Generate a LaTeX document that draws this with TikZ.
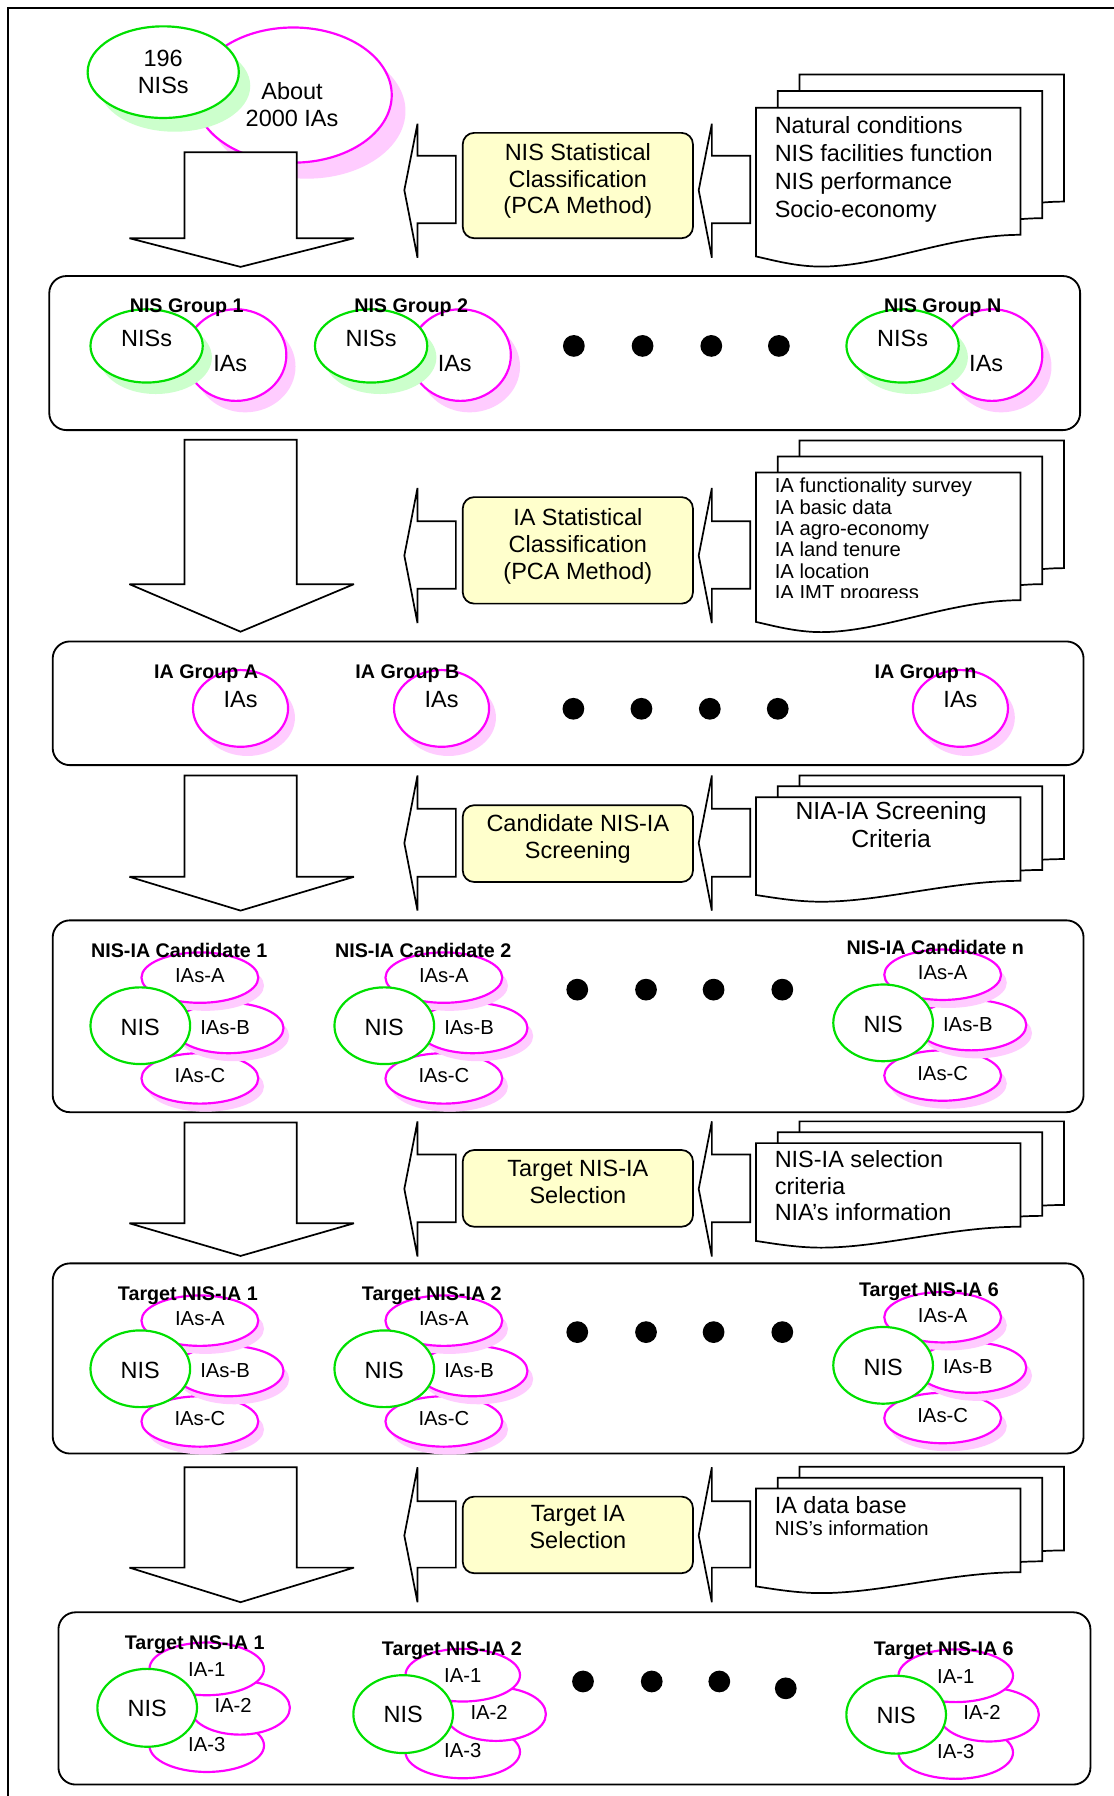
\documentclass[tikz,border=0pt]{standalone}
\usepackage{fontspec}
\setmainfont{Liberation Sans}
\definecolor{grn}{RGB}{0,224,0}
\definecolor{mag}{RGB}{255,0,255}
\definecolor{grnsh}{RGB}{204,255,204}
\definecolor{magsh}{RGB}{255,204,255}
\definecolor{pyel}{RGB}{255,255,204}
\newcommand\fbig{\fontsize{10.25}{11.75}\selectfont}
\newcommand\fsmall{\fontsize{8.85}{9.3}\selectfont}
\newcommand\flbl{\fontsize{8.6}{10}\selectfont\bfseries}
\tikzset{
  gline/.style={draw=grn, line width=0.95pt, fill=white},
  mline/.style={draw=mag, line width=0.95pt, fill=white},
  gshadow/.style={fill=grnsh},
  mshadow/.style={fill=magsh},
  blk/.style={draw=black, line width=0.75pt, fill=white, line join=miter, miter limit=3},
  panel/.style={draw=black, line width=0.8pt, rounded corners=7.5pt},
  pbox/.style={draw=black, line width=0.75pt, fill=pyel, rounded corners=5pt},
  onel/.style={inner sep=0pt, text depth=0pt},
  txtbig/.style={onel, font=\fbig, text height=7.45pt},
  txtsm/.style={onel, font=\fsmall, text height=6.45pt},
  txtlbl/.style={onel, font=\flbl, text height=6.2pt},
  multi/.style={inner sep=0pt, align=center, font=\fbig},
}
% down block arrow: top, head y, tip y
\newcommand\downarr[3]{%
  \draw[blk] (161,#1) -- (259,#1) -- (259,#2) -- (309,#2) -- (210,#3) -- (113,#2) -- (161,#2) -- cycle;}
% left block arrow: tip x, top, body top, tip y, body bottom, bottom
\newcommand\leftarr[6]{%
  \draw[blk] ({#1+11.5},#2) -- ({#1+11.5},#3) -- ({#1+45},#3) -- ({#1+45},#5) -- ({#1+11.5},#5) -- ({#1+11.5},#6) -- (#1,#4) -- cycle;}
% document page: x0, top, h
\newcommand\docpage[3]{%
  \draw[blk] ({#1},{#2}) -- ({#1+231},{#2}) -- ({#1+231},{#2+#3})
    .. controls ({#1+170},{#2+#3}) and ({#1+110},{#2+1.25*#3}) .. ({#1+57},{#2+1.25*#3})
    .. controls ({#1+35},{#2+1.25*#3}) and ({#1+15},{#2+1.2*#3}) .. ({#1},{#2+1.17*#3}) -- cycle;}
\newcommand\docstack[4]{%
  \docpage{#1+38}{#2-2*#4}{#3}\docpage{#1+19}{#2-#4}{#3}\docpage{#1}{#2}{#3}}
% NIS group (row 1): name, gx, gy, label
\newcommand\nisgroup[4]{%
  \fill[mshadow] ({#2+86},{#3+18}) ellipse [x radius=44, y radius=40];
  \draw[mline] ({#2+78},{#3+8}) ellipse [x radius=44, y radius=40];
  \fill[gshadow] ({#2+8},{#3+10}) ellipse [x radius=49, y radius=32];
  \draw[gline] ({#2},{#3}) ellipse [x radius=49, y radius=32];
  \node[txtbig] (#1n) at ({#2},{#3-7}) {NISs};
  \node[txtbig] (#1i) at ({#2+73},{#3+15}) {IAs};
  \node[txtlbl] (#1l) at ({#2+35},{#3-35}) {#4};}
% IA group (row 2): name, cx, label x, label
\newcommand\iagroup[4]{%
  \fill[mshadow] ({#2+6},626.5) ellipse [x radius=41.5, y radius=33.5];
  \draw[mline] ({#2},618.5) ellipse [x radius=41.5, y radius=33.5];
  \node[txtbig] (#1i) at ({#2},610) {IAs};
  \node[txtlbl] (#1l) at ({#3},586.5) {#4};}
% candidate / target cluster: name, cx, cy, label x, label
\newcommand\candclus[5]{%
  \fill[mshadow] ({#2+57},{#3+53}) ellipse [x radius=51, y radius=22];
  \draw[mline] ({#2+52},{#3+46}) ellipse [x radius=51, y radius=22];
  \fill[mshadow] ({#2+82},{#3+9}) ellipse [x radius=48, y radius=22];
  \draw[mline] ({#2+77},{#3+2}) ellipse [x radius=48, y radius=22];
  \fill[mshadow] ({#2+57},{#3-35}) ellipse [x radius=51, y radius=22];
  \draw[mline] ({#2+52},{#3-42}) ellipse [x radius=51, y radius=22];
  \draw[gline] ({#2},{#3}) ellipse [x radius=43.5, y radius=33.5];
  \node[txtsm] (#1a) at ({#2+52},{#3-44}) {IAs-A};
  \node[txtsm] (#1b) at ({#2+74},{#3+1}) {IAs-B};
  \node[txtsm] (#1c) at ({#2+52},{#3+43.5}) {IAs-C};
  \node[txtbig] (#1n) at ({#2},{#3+1}) {NIS};
  \node[txtlbl] (#1l) at ({#4},{#3-66}) {#5};}
% final cluster: name, cx, cy, label x, label y, label
\newcommand\iaclus[6]{%
  \draw[mline] ({#2+52},{#3+33}) ellipse [x radius=50, y radius=23];
  \draw[mline] ({#2+81},{#3}) ellipse [x radius=43.6, y radius=23.4];
  \draw[mline] ({#2+52},{#3-34}) ellipse [x radius=50, y radius=23];
  \draw[gline] ({#2},{#3}) ellipse [x radius=43.5, y radius=34];
  \node[txtsm] (#1a) at ({#2+52},{#3-34}) {IA-1};
  \node[txtsm] (#1b) at ({#2+75},{#3-2}) {IA-2};
  \node[txtsm] (#1c) at ({#2+52},{#3+31.5}) {IA-3};
  \node[txtbig] (#1n) at ({#2},{#3}) {NIS};
  \node[txtlbl] (#1l) at ({#4},{#5}) {#6};}
\newcommand\dotrow[5]{%
  \foreach \dx in {#1,#2,#3,#4} {\fill (\dx,#5) circle [radius=9.5];}}
\begin{document}
\begin{tikzpicture}[x=0.5pt,y=-0.5pt]
\useasboundingbox (0,0) rectangle (972,1568);
\fill[white] (0,0) rectangle (972,1568);
\draw[line width=0.8pt] (7,1572) -- (7,7) -- (976,7);

% ---------- top: NIS / IA ellipses ----------
\fill[mshadow] (268,97) ellipse [x radius=86, y radius=59];
\draw[mline] (256,83) ellipse [x radius=86, y radius=59];
\fill[gshadow] (152.5,75) ellipse [x radius=66, y radius=40];
\draw[gline] (142.5,63) ellipse [x radius=66, y radius=40];
\node[multi] (t196) at (142.5,62.5) {196\\NISs};
\node[multi] (t2000) at (255,91) {About\\2000 IAs};

% ---------- stage 1 ----------
\downarr{133}{208}{233}
\leftarr{353}{108}{136}{166}{195}{225}
\draw[pbox] (404,116) rectangle (605,208);
\node[multi] (p1) at (504.5,158) {NIS Statistical\\Classification\\(PCA Method)};
\leftarr{610}{108}{136}{166}{195}{225}
\docstack{660}{94}{111}{14.5}
\node[inner sep=0pt, anchor=north west, align=left, font=\fontsize{10.25}{12.15}\selectfont] (d1) at (676,101.5)
  {Natural conditions\\NIS facilities function\\NIS performance\\Socio-economy};

% ---------- row 1 ----------
\draw[panel] (43,241) rectangle (943,375.5);
\nisgroup{g1}{128}{302}{NIS Group 1}
\nisgroup{g2}{324}{302}{NIS Group 2}
\nisgroup{gN}{788}{302}{NIS Group N}
\dotrow{501}{561}{621}{680}{302}

% ---------- stage 2 ----------
\downarr{384}{510}{551.5}
\leftarr{353}{426}{455}{485}{514}{544}
\draw[pbox] (404,434) rectangle (605,527);
\node[multi] (p2) at (504.5,477) {IA Statistical\\Classification\\(PCA Method)};
\leftarr{610}{426}{455}{485}{514}{544}
\docstack{660}{412.5}{111.5}{14}
\begin{scope}
\clip (660,400) rectangle (892,522);
\node[inner sep=0pt, anchor=north west, align=left, font=\fsmall] (d2) at (676,417)
  {IA functionality survey\\IA basic data\\IA agro-economy\\IA land tenure\\IA location\\IA IMT progress};
\end{scope}

% ---------- row 2 ----------
\draw[panel] (46,560) rectangle (946,668);
\iagroup{ga}{210}{180}{IA Group A}
\iagroup{gb}{385.5}{355.7}{IA Group B}
\iagroup{gn}{838.5}{808}{IA Group n}
\dotrow{500.6}{560}{619.7}{679}{618.8}

% ---------- stage 3 ----------
\downarr{677}{765.5}{795}
\leftarr{353}{677}{706}{736}{765.5}{795}
\draw[pbox] (404,703) rectangle (605,770);
\node[multi] (p3) at (504.5,732.5) {Candidate NIS-IA\\Screening};
\leftarr{610}{677}{706}{736}{765.5}{795}
\docstack{660}{696}{73}{9.5}
\node[inner sep=0pt, align=center, font=\fontsize{10.8}{12}\selectfont] (d3) at (778,720) {NIA-IA Screening\\Criteria};

% ---------- row 3 ----------
\draw[panel] (46,803.5) rectangle (946,971);
\candclus{c1}{122.5}{895.5}{156.5}{NIS-IA Candidate 1}
\candclus{c2}{335.5}{895.5}{369.5}{NIS-IA Candidate 2}
\candclus{cn}{771}{893}{816.5}{NIS-IA Candidate n}
\dotrow{504}{564}{623}{683}{864}

% ---------- stage 4 ----------
\downarr{980}{1068}{1096.5}
\leftarr{353}{979}{1008}{1038}{1067}{1097}
\draw[pbox] (404,1004) rectangle (605,1071);
\node[multi] (p4) at (504.5,1031.5) {Target NIS-IA\\Selection};
\leftarr{610}{979}{1008}{1038}{1067}{1097}
\docstack{660}{998}{73}{9.5}
\node[inner sep=0pt, anchor=north west, align=left, font=\fontsize{10.25}{11.6}\selectfont] (d4) at (676,1004.2)
  {NIS-IA selection\\criteria\\NIA’s information};

% ---------- row 4 ----------
\draw[panel] (46,1103) rectangle (946,1269);
\candclus{t1}{122.5}{1195}{164}{Target NIS-IA 1}
\candclus{t2}{335.5}{1195}{377}{Target NIS-IA 2}
\candclus{t6}{771}{1192}{811}{Target NIS-IA 6}
\dotrow{504}{564}{623}{683}{1163}

% ---------- stage 5 ----------
\downarr{1281}{1368.6}{1398.8}
\leftarr{353}{1281}{1310.6}{1340.6}{1368.6}{1398.8}
\draw[pbox] (404,1306.6) rectangle (605,1373.5);
\node[multi] (p5) at (504.5,1333.5) {Target IA\\Selection};
\leftarr{610}{1281}{1310.6}{1340.6}{1368.6}{1398.8}
\docstack{660}{1299.6}{73}{9.5}
\node[txtbig, anchor=west] (d5a) at (676,1313.6) {IA data base};
\node[txtsm, anchor=west] (d5b) at (676,1333.7) {NIS’s information};

% ---------- row 5 ----------
\draw[panel] (51,1407.6) rectangle (952,1558);
\iaclus{f1}{128.5}{1491}{170}{1434}{Target NIS-IA 1}
\iaclus{f2}{352}{1496.5}{394.5}{1439.5}{Target NIS-IA 2}
\iaclus{f6}{782.4}{1497}{824}{1439.5}{Target NIS-IA 6}
\fill (509,1468) circle [radius=9.5];
\fill (569,1468) circle [radius=9.5];
\fill (628,1468) circle [radius=9.5];
\fill (686,1474) circle [radius=9.5];
\end{tikzpicture}
\end{document}
